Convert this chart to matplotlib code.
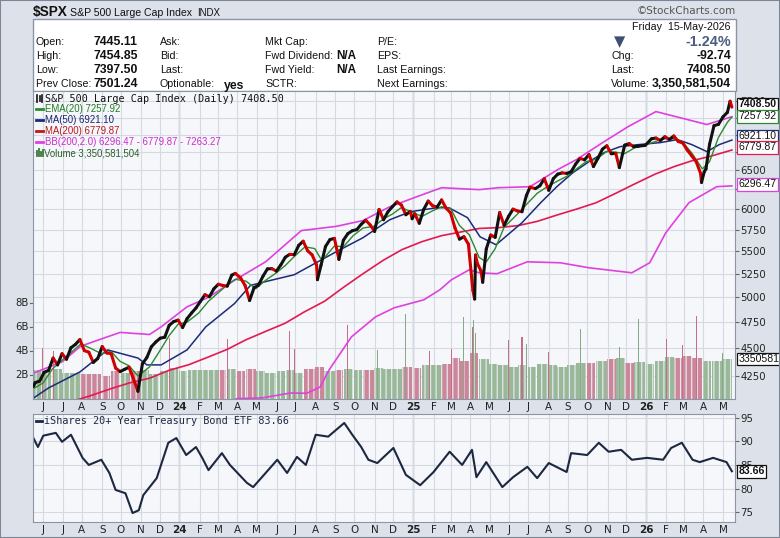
import numpy as np
import pandas as pd
import matplotlib
matplotlib.use("Agg")
import matplotlib.pyplot as plt
from matplotlib.patches import Rectangle
from matplotlib.lines import Line2D
from matplotlib.collections import LineCollection
from matplotlib.transforms import blended_transform_factory
from matplotlib.ticker import FixedLocator, FixedFormatter, NullLocator, NullFormatter

W, H = 780, 538
plt.rcParams["hatch.linewidth"] = 0.9

# S&P 500 weekly closes
px_dates = ["2023-05-17", "2023-05-19", "2023-05-26", "2023-06-02", "2023-06-09", "2023-06-16",
            "2023-06-23", "2023-06-30", "2023-07-07", "2023-07-14", "2023-07-21", "2023-07-28",
            "2023-08-04", "2023-08-11", "2023-08-18", "2023-08-25", "2023-09-01", "2023-09-08",
            "2023-09-15", "2023-09-22", "2023-09-29", "2023-10-06", "2023-10-13", "2023-10-20",
            "2023-10-27", "2023-11-03", "2023-11-10", "2023-11-17", "2023-11-24", "2023-12-01",
            "2023-12-08", "2023-12-15", "2023-12-22", "2023-12-29",
            "2024-01-05", "2024-01-12", "2024-01-19", "2024-01-26", "2024-02-02", "2024-02-09",
            "2024-02-16", "2024-02-23", "2024-03-01", "2024-03-08", "2024-03-15", "2024-03-22",
            "2024-03-28", "2024-04-05", "2024-04-12", "2024-04-19", "2024-04-26", "2024-05-03",
            "2024-05-10", "2024-05-17", "2024-05-24", "2024-05-31", "2024-06-07", "2024-06-14",
            "2024-06-21", "2024-06-28", "2024-07-05", "2024-07-12", "2024-07-19", "2024-07-26",
            "2024-08-02", "2024-08-05", "2024-08-09", "2024-08-16", "2024-08-23", "2024-08-30",
            "2024-09-06", "2024-09-13", "2024-09-20", "2024-09-27", "2024-10-04", "2024-10-11",
            "2024-10-18", "2024-10-25", "2024-11-01", "2024-11-08", "2024-11-15", "2024-11-22",
            "2024-11-29", "2024-12-06", "2024-12-13", "2024-12-20", "2024-12-27", "2024-12-31",
            "2025-01-03", "2025-01-10", "2025-01-17", "2025-01-24", "2025-01-31", "2025-02-07",
            "2025-02-14", "2025-02-21", "2025-02-28", "2025-03-07", "2025-03-14", "2025-03-21",
            "2025-03-28", "2025-04-04", "2025-04-08", "2025-04-09", "2025-04-11", "2025-04-17",
            "2025-04-21", "2025-04-25", "2025-05-02", "2025-05-09", "2025-05-16", "2025-05-23",
            "2025-05-30", "2025-06-06", "2025-06-13", "2025-06-20", "2025-06-27", "2025-07-03",
            "2025-07-11", "2025-07-18", "2025-07-25", "2025-08-01", "2025-08-08", "2025-08-15",
            "2025-08-22", "2025-08-29", "2025-09-05", "2025-09-12", "2025-09-19", "2025-09-26",
            "2025-10-03", "2025-10-10", "2025-10-17", "2025-10-24", "2025-10-31", "2025-11-07",
            "2025-11-14", "2025-11-20", "2025-11-28", "2025-12-05", "2025-12-12", "2025-12-19",
            "2025-12-31",
            "2026-01-09", "2026-01-16", "2026-01-23", "2026-01-30", "2026-02-06", "2026-02-13",
            "2026-02-20", "2026-02-27", "2026-03-06", "2026-03-13", "2026-03-20", "2026-03-27",
            "2026-03-30", "2026-04-02", "2026-04-06", "2026-04-10", "2026-04-17", "2026-04-24",
            "2026-05-01", "2026-05-08", "2026-05-13", "2026-05-15"]
px_close = [4158, 4192, 4205, 4282, 4299, 4410,
            4348, 4450, 4399, 4505, 4536, 4582,
            4478, 4464, 4370, 4406, 4516, 4457,
            4450, 4320, 4288, 4308, 4327, 4224,
            4117, 4358, 4415, 4514, 4559, 4595,
            4604, 4719, 4755, 4770,
            4697, 4784, 4840, 4891, 4959, 5027,
            5006, 5089, 5137, 5124, 5117, 5234,
            5254, 5204, 5123, 4967, 5100, 5128,
            5223, 5303, 5305, 5278, 5347, 5432,
            5465, 5460, 5567, 5615, 5505, 5459,
            5346, 5186, 5344, 5554, 5634, 5648,
            5408, 5626, 5703, 5738, 5751, 5815,
            5864, 5808, 5729, 5996, 5870, 5969,
            6032, 6090, 6051, 5931, 5971, 5882,
            5942, 5827, 5997, 6101, 6041, 6026,
            6115, 6013, 5955, 5770, 5639, 5668,
            5581, 5074, 4982, 5457, 5363, 5283,
            5158, 5525, 5687, 5660, 5958, 5803,
            5912, 6000, 5977, 5968, 6173, 6279,
            6260, 6297, 6389, 6238, 6389, 6450,
            6467, 6460, 6482, 6584, 6664, 6644,
            6716, 6552, 6664, 6791, 6840, 6728,
            6734, 6538, 6849, 6870, 6827, 6834,
            6845,
            6940, 6950, 6915, 6970, 6930, 6980,
            6900, 6880, 6780, 6700, 6620, 6460,
            6340, 6480, 6520, 6860, 7130, 7150,
            7260, 7330, 7500, 7408.5]

ema_dates = ["2023-05-17", "2023-06-01", "2023-06-15", "2023-06-30", "2023-07-14", "2023-07-31",
             "2023-08-15", "2023-08-31", "2023-09-15", "2023-09-29", "2023-10-13", "2023-10-27",
             "2023-11-15", "2023-11-30", "2023-12-15", "2023-12-29",
             "2024-01-12", "2024-01-31", "2024-02-15", "2024-02-29", "2024-03-15", "2024-03-28",
             "2024-04-15", "2024-04-30", "2024-05-15", "2024-05-31", "2024-06-14", "2024-06-28",
             "2024-07-16", "2024-07-31", "2024-08-09", "2024-08-15", "2024-08-30", "2024-09-13",
             "2024-09-30", "2024-10-15", "2024-10-31", "2024-11-15", "2024-11-29", "2024-12-13",
             "2024-12-31",
             "2025-01-15", "2025-01-31", "2025-02-14", "2025-02-28", "2025-03-14", "2025-03-31",
             "2025-04-15", "2025-04-25", "2025-05-09", "2025-05-23", "2025-06-13", "2025-06-30",
             "2025-07-15", "2025-07-31", "2025-08-15", "2025-08-29", "2025-09-15", "2025-09-30",
             "2025-10-15", "2025-10-31", "2025-11-14", "2025-11-28", "2025-12-15", "2025-12-31",
             "2026-01-15", "2026-01-30", "2026-02-13", "2026-02-27", "2026-03-13", "2026-03-31",
             "2026-04-10", "2026-04-24", "2026-05-08", "2026-05-15"]
ema_vals = [4140, 4190, 4310, 4390, 4460, 4540, 4500, 4450, 4470, 4380, 4340, 4250,
            4330, 4470, 4620, 4730,
            4750, 4840, 4960, 5040, 5130, 5190, 5170, 5090, 5180, 5260, 5340, 5440,
            5550, 5530, 5410, 5430, 5560, 5550, 5680, 5770, 5790, 5880, 5940, 6020, 5960,
            5910, 5980, 6030, 6010, 5800, 5690, 5430, 5380, 5530, 5780, 5940, 6070,
            6200, 6290, 6360, 6420, 6520, 6620, 6650, 6760, 6750, 6730, 6810, 6850,
            6900, 6940, 6940, 6890, 6740, 6520, 6620, 6960, 7180, 7258]

ma50_dates = ["2023-05-17", "2023-06-09", "2023-07-28", "2023-09-11", "2023-10-27", "2023-11-10",
              "2023-12-04", "2024-01-12", "2024-02-12", "2024-03-27", "2024-04-22", "2024-05-17",
              "2024-06-28", "2024-09-03", "2024-10-15", "2024-11-26", "2024-12-27", "2025-02-07",
              "2025-02-26", "2025-03-27", "2025-04-16", "2025-05-12", "2025-06-20", "2025-07-21",
              "2025-08-14", "2025-09-09", "2025-10-03", "2025-10-28", "2025-11-21", "2025-12-22",
              "2026-01-23", "2026-02-19", "2026-03-13", "2026-04-07", "2026-04-27", "2026-05-15"]
ma50_vals = [4060, 4146, 4285, 4485, 4410, 4348, 4348, 4485, 4704, 4935, 5125, 5170,
             5239, 5494, 5656, 5870, 5968, 6018, 6018, 5895, 5667, 5574, 5834, 6081,
             6285, 6470, 6619, 6744, 6828, 6857, 6885, 6928, 6857, 6758, 6857, 6921]

ma200_dates = ["2023-07-10", "2023-08-15", "2023-09-15", "2023-10-16", "2023-11-15", "2023-12-15",
               "2024-01-16", "2024-02-15", "2024-03-15", "2024-04-15", "2024-05-15", "2024-06-14",
               "2024-07-15", "2024-08-15", "2024-09-16", "2024-10-15", "2024-11-15", "2024-12-16",
               "2025-01-15", "2025-02-14", "2025-03-14", "2025-04-15", "2025-05-15", "2025-06-16",
               "2025-07-15", "2025-08-15", "2025-09-15", "2025-10-15", "2025-11-14", "2025-12-15",
               "2026-01-15", "2026-02-13", "2026-03-13", "2026-04-15", "2026-05-15"]
ma200_vals = [4020, 4080, 4140, 4190, 4230, 4300, 4350, 4420, 4490, 4580, 4660, 4740,
              4850, 4960, 5110, 5250, 5400, 5520, 5610, 5680, 5720, 5765, 5775, 5800,
              5850, 5930, 6000, 6080, 6200, 6320, 6450, 6550, 6630, 6700, 6780]

bbu_dates = ["2023-05-17", "2023-06-30", "2023-07-31", "2023-09-29", "2023-11-15", "2023-12-04",
             "2024-01-12", "2024-02-15", "2024-03-28", "2024-05-15", "2024-07-10", "2024-09-03",
             "2024-10-15", "2024-11-26", "2025-01-15", "2025-02-14", "2025-04-15", "2025-05-15",
             "2025-07-03", "2025-08-15", "2025-09-15", "2025-10-28", "2025-12-04", "2026-01-16",
             "2026-04-07", "2026-05-15"]
bbu_vals = [4275, 4375, 4520, 4650, 4630, 4704, 4903, 5000, 5185, 5381, 5740, 5790,
            5860, 6030, 6180, 6272, 6247, 6272, 6285, 6511, 6647, 6899, 7117, 7341,
            7147, 7263]

bbl_dates = ["2024-03-01", "2024-04-01", "2024-05-09", "2024-06-24", "2024-07-18", "2024-08-08",
             "2024-08-22", "2024-09-26", "2024-11-04", "2024-12-03", "2025-01-17", "2025-02-12",
             "2025-03-03", "2025-03-31", "2025-04-15", "2025-05-13", "2025-06-30", "2025-08-20",
             "2025-10-03", "2025-12-10", "2026-01-07", "2026-02-02", "2026-03-10", "2026-04-22",
             "2026-05-15"]
bbl_vals = [3990, 4055, 4061, 4103, 4100, 4154, 4303, 4607, 4802, 4893, 4974, 5078,
            5185, 5293, 5260, 5250, 5381, 5370, 5315, 5260, 5370, 5714, 6081, 6285, 6296]

# volume in billions, half-month buckets starting 2023-05-15
vol_vals = [2.4, 2.3, 2.5, 2.2, 2.2, 2.1, 2.1, 1.9, 2.3, 2.2, 2.3, 2.4, 2.1, 2.3, 2.6,
            2.3, 2.4, 2.4, 2.4, 2.4, 2.5, 2.3, 2.5, 2.3, 2.2, 2.3, 2.4,
            2.2, 2.5, 2.7, 2.3, 2.4, 2.5, 2.4, 2.4, 2.6, 2.5, 2.5, 2.7,
            2.6, 2.8, 2.8, 2.9, 3.4, 3.2, 3.8, 3.3, 2.9, 2.8, 2.7, 2.8,
            2.7, 2.9, 2.8, 2.7, 2.8, 3.0, 3.0, 3.2, 3.3, 3.4, 3.0, 3.1,
            2.9, 3.2, 3.5, 3.4, 3.6, 3.4, 3.2, 3.2, 3.3]
spike_dates = ["2023-05-31", "2023-06-16", "2023-12-15", "2024-03-15", "2024-06-21", "2024-06-28",
               "2024-09-20", "2024-11-06", "2024-12-20", "2025-01-27", "2025-03-03", "2025-03-21",
               "2025-04-04", "2025-04-07", "2025-04-09", "2025-05-30", "2025-06-20", "2025-06-27",
               "2025-08-01", "2025-09-19", "2025-11-20", "2025-12-19", "2026-02-03", "2026-02-27",
               "2026-03-20", "2026-04-30"]
spike_vals = [4.25, 4.0, 5.1, 5.0, 5.7, 4.2, 6.2, 4.1, 7.1, 4.0, 4.2, 6.8,
              6.0, 6.6, 5.5, 4.9, 5.2, 4.6, 3.9, 5.8, 4.3, 6.7, 5.0, 4.5, 6.9, 3.8]
spike_up = ["d", "d", "d", "d", "d", "d", "d", "u", "u", "d", "d", "u",
            "d", "u", "u", "d", "d", "u", "d", "u", "u", "u", "d", "d", "d", "u"]

# iShares 20+ Year Treasury Bond ETF
tlt_dates = ["2023-05-17", "2023-05-24", "2023-06-01", "2023-06-21", "2023-06-30", "2023-07-14",
             "2023-08-02", "2023-08-11", "2023-08-31", "2023-09-13", "2023-09-22", "2023-10-09",
             "2023-10-19", "2023-10-30", "2023-11-06", "2023-11-27", "2023-12-14", "2023-12-27",
             "2024-01-11", "2024-01-26", "2024-02-06", "2024-02-15", "2024-03-07", "2024-03-20",
             "2024-04-16", "2024-04-25", "2024-05-15", "2024-06-03", "2024-06-18", "2024-07-03",
             "2024-07-17", "2024-08-01", "2024-08-21", "2024-09-16", "2024-09-27", "2024-10-11",
             "2024-10-23", "2024-11-06", "2024-12-02", "2024-12-20", "2025-01-13", "2025-02-03",
             "2025-02-27", "2025-03-19", "2025-04-03", "2025-04-10", "2025-04-25", "2025-05-21",
             "2025-06-06", "2025-06-30", "2025-07-15", "2025-08-01", "2025-08-29", "2025-09-05",
             "2025-10-01", "2025-10-20", "2025-11-04", "2025-11-24", "2025-12-10", "2026-01-02",
             "2026-01-28", "2026-02-10", "2026-02-26", "2026-03-16", "2026-03-26", "2026-04-16",
             "2026-05-07", "2026-05-15"]
tlt_vals = [90.7, 88.8, 91.2, 91.8, 89.9, 91.4, 86.5, 85.0, 86.1, 83.3, 79.7, 79.0,
            74.8, 75.4, 78.6, 82.2, 89.7, 90.7, 87.1, 88.8, 86.5, 83.9, 87.5, 85.0,
            81.2, 80.3, 83.3, 86.1, 83.3, 86.7, 85.0, 91.4, 91.0, 93.9, 91.4, 88.8,
            86.1, 85.4, 88.6, 82.9, 80.7, 83.5, 87.8, 85.0, 88.2, 82.4, 85.6, 80.3,
            82.4, 84.6, 82.2, 85.4, 83.5, 87.5, 87.1, 89.7, 87.8, 88.2, 86.1, 86.5,
            86.1, 88.6, 89.7, 86.1, 85.6, 86.5, 85.6, 83.66]

price_ticks = [4250, 4500, 4750, 5000, 5250, 5500, 5750, 6000, 6250, 6500, 6750, 7000, 7250, 7500]
price_labels = ["4250", "4500", "4750", "5000", "5250", "5500", "5750", "6000", "", "6500", "", "7000", "", "7500"]
vol_ticks = [2, 4, 6, 8]
tlt_ticks = [75, 80, 85, 90, 95]

# colours
C_EMA = "#2c8a2c"
C_MA50 = "#1c2a7a"
C_MA200 = "#e21a52"
C_BB = "#e040e0"
C_TLT = "#1c2841"
PANEL = "#f6f7fa"
GRID = "#d4d9e2"
EDGE = "#8c95a5"
HF = "Liberation Sans"
MONO = "DejaVu Sans Mono"

days = pd.bdate_range("2023-05-17", "2026-05-15")
n = len(days)


def pos(d):
    return days.searchsorted(pd.to_datetime(d))


def rect(x0, y0, x1, y1):
    return [x0 / W, 1 - y1 / H, (x1 - x0) / W, (y1 - y0) / H]


fig = plt.figure(figsize=(W / 100, H / 100), dpi=100, facecolor="#dde2ea")

# header box
fig.add_artist(Rectangle((33 / W, 1 - 91 / H), (736 - 33) / W, (91 - 19) / H,
                         transform=fig.transFigure, fc="white", ec=EDGE, lw=1, zorder=0))

ax = fig.add_axes(rect(33, 91, 735, 399))
ax2 = fig.add_axes(rect(33, 414, 735, 522))

months = pd.date_range("2023-06-01", "2026-05-01", freq="MS")
mpos = pos(months)
mlabels = [str(d.year)[2:] if d.month == 1 else d.strftime("%b")[0] for d in months]

for a in (ax, ax2):
    a.set_facecolor(PANEL)
    a.set_xlim(-0.5, n + 2.5)
    a.set_xticks(mpos)
    a.set_xticklabels(mlabels)
    a.tick_params(axis="x", length=0, pad=2.5, labelsize=7.5, labelcolor="#222")
    for lbl in a.get_xticklabels():
        if lbl.get_text().isdigit():
            lbl.set_fontweight("bold")
    a.grid(True, color=GRID, lw=0.8)
    a.set_axisbelow(True)
    for m, p in zip(months, mpos):
        if m.month == 1:
            a.axvline(p, color="#aab2bf", lw=1.0, zorder=0.5)
    for s in a.spines.values():
        s.set_color(EDGE)

# ---- price panel ----
ax.set_yscale("log")
ax.set_ylim(4052, 7660)
ax.yaxis.set_major_locator(FixedLocator(price_ticks))
ax.yaxis.set_major_formatter(FixedFormatter(price_labels))
ax.yaxis.set_minor_locator(NullLocator())
ax.yaxis.set_minor_formatter(NullFormatter())
ax.yaxis.tick_right()
ax.tick_params(axis="y", length=3, color="#666", labelsize=7.3, labelcolor="#222", pad=1)

# volume overlay
vtr = blended_transform_factory(ax.transData, ax.transAxes)
VMAX = (399 - 91) / 12.0
xp = pos(px_dates)
yp = np.array(px_close)


def price_at(x):
    i = max(np.searchsorted(xp, x, side="right") - 1, 0)
    return yp[i]


vstart = pd.date_range("2023-05-15", periods=len(vol_vals), freq="SMS")
vs = pos(vstart)
ve = np.append(vs[1:], n)
for a0, a1, v in zip(vs, ve, vol_vals):
    up = price_at(a1 - 1) >= price_at(a0)
    fc = "#98b898" if up else "#cc8599"
    ax.add_patch(Rectangle((a0 - 0.5, 0), a1 - a0 - 0.4, v / VMAX, transform=vtr,
                           fc=fc, ec="#e3e7ee", lw=0, hatch="|||", zorder=1))
for d, v, u in zip(pos(spike_dates), spike_vals, spike_up):
    fc = "#86aa86" if u == "u" else "#c46f88"
    ax.add_patch(Rectangle((d - 0.6, 0), 1.2, v / VMAX, transform=vtr, fc=fc, lw=0, zorder=1.1))
for v in vol_ticks:
    ax.text(-0.006, v / VMAX, f"{v}B", transform=ax.transAxes, ha="right", va="center",
            fontsize=7.3, color="#222")
    ax.plot([-0.004, 0], [v / VMAX] * 2, transform=ax.transAxes, color="#666", lw=0.8,
            clip_on=False)

ax.plot(pos(bbl_dates), bbl_vals, color=C_BB, lw=1.2, zorder=2)
ax.plot(pos(bbu_dates), bbu_vals, color=C_BB, lw=1.2, zorder=2)
ax.plot(pos(ma200_dates), ma200_vals, color=C_MA200, lw=1.2, zorder=2.1)
ax.plot(pos(ma50_dates), ma50_vals, color=C_MA50, lw=1.1, zorder=2.2)
ax.plot(pos(ema_dates), ema_vals, color=C_EMA, lw=1.0, zorder=2.3)

segs = [[(xp[i], yp[i]), (xp[i + 1], yp[i + 1])] for i in range(len(xp) - 1)]
cols = ["#111111" if yp[i + 1] >= yp[i] else "#d00000" for i in range(len(xp) - 1)]
ax.add_collection(LineCollection(segs, colors=cols, linewidths=2.2, zorder=3,
                                 capstyle="round"))

ytr = ax.get_yaxis_transform()


def tag(a, tr, y, s, ec, bold=False, dy=0):
    a.annotate(s, xy=(1.005, y), xycoords=tr, xytext=(0, dy), textcoords="offset points",
               ha="left", va="center", family=HF, fontsize=7.6, color="#111",
               fontweight="bold" if bold else "normal", annotation_clip=False, zorder=5,
               bbox=dict(boxstyle="square,pad=0.12", fc="white", ec=ec, lw=0.9))


tag(ax, ytr, px_close[-1], "7408.50", "#111", bold=True, dy=2)
tag(ax, ytr, ema_vals[-1], "7257.92", C_EMA, dy=0.5)
tag(ax, ytr, ma50_vals[-1], "6921.10", C_MA50, dy=3)
tag(ax, ytr, ma200_vals[-1], "6779.87", C_MA200, dy=2)
tag(ax, ytr, bbl_vals[-1], "6296.47", C_BB, dy=1)
ax.annotate("3350581504", xy=(1.005, 3.35 / VMAX), xycoords=ax.transAxes, ha="left",
            va="center", family=HF, fontsize=7.6, color="#111", annotation_clip=False,
            zorder=5, bbox=dict(boxstyle="square,pad=0.12", fc="white", ec="#111", lw=0.9))

# ---- bond panel ----
ax2.plot(pos(tlt_dates), tlt_vals, color=C_TLT, lw=1.5)
ax2.set_ylim(72.9, 95.8)
ax2.set_yticks(tlt_ticks)
ax2.yaxis.tick_right()
ax2.tick_params(axis="y", length=3, color="#666", labelsize=7.3, labelcolor="#222", pad=1)
tag(ax2, ax2.get_yaxis_transform(), tlt_vals[-1], "83.66", "#111", bold=True)


# ---- texts ----
def ftxt(x, y, s, **kw):
    kw.setdefault("va", "center")
    return fig.text(x / W, 1 - y / H, s, **kw)


def fline(x0, x1, y0, y1, color, lw=2):
    fig.add_artist(Line2D([x0 / W, x1 / W], [1 - y0 / H, 1 - y1 / H],
                          transform=fig.transFigure, color=color, lw=lw))


ftxt(33, 12, "$SPX", family=HF, fontsize=9.8, fontweight="bold", color="#111")
ftxt(70, 12.5, "S&P 500 Large Cap Index", family=HF, fontsize=7.6, color="#111")
ftxt(197, 12.5, "INDX", family=HF, fontsize=7.0, color="#111")
ftxt(736, 11, "\u00a9StockCharts.com", fontsize=7.5, color="#555", ha="right")

LF, VF = 7.7, 8.8
rows = [42, 56, 70, 84]
for y, lab, val in zip(rows, ["Open:", "High:", "Low:", "Prev Close:"],
                       ["7445.11", "7454.85", "7397.50", "7501.24"]):
    ftxt(36, y, lab, family=HF, fontsize=LF, color="#111")
    ftxt(138, y, val, family=HF, fontsize=VF, fontweight="bold", color="#111", ha="right")
for y, lab in zip(rows, ["Ask:", "Bid:", "Last:", "Optionable:"]):
    ftxt(160, y, lab, family=HF, fontsize=LF, color="#111")
ftxt(224, 86, "yes", family=HF, fontsize=VF, fontweight="bold", color="#111")
for y, lab in zip(rows, ["Mkt Cap:", "Fwd Dividend:", "Fwd Yield:", "SCTR:"]):
    ftxt(265, y, lab, family=HF, fontsize=LF, color="#111")
ftxt(356, 56, "N/A", family=HF, fontsize=8.4, fontweight="bold", color="#111", ha="right")
ftxt(356, 70, "N/A", family=HF, fontsize=8.4, fontweight="bold", color="#111", ha="right")
for y, lab in zip(rows, ["P/E:", "EPS:", "Last Earnings:", "Next Earnings:"]):
    ftxt(377, y, lab, family=HF, fontsize=LF, color="#111")

ftxt(731, 27, "Friday  15-May-2026", family=HF, fontsize=7.7, color="#111", ha="right")
ftxt(620, 42, "\u25bc", fontsize=10.5, color="#3e5072", ha="center")
ftxt(731, 42, "-1.24%", family=HF, fontsize=10.4, fontweight="bold", color="#4a5d82", ha="right")
for y, lab, val in zip(rows[1:], ["Chg:", "Last:", "Volume:"],
                       ["-92.74", "7408.50", "3,350,581,504"]):
    ftxt(611, y, lab, family=HF, fontsize=LF, color="#111")
    ftxt(731, y, val, family=HF, fontsize=VF, fontweight="bold", color="#111", ha="right")

# price legend
for xx, y0, y1 in [(37, 95, 102), (39.5, 96, 101), (42, 94.5, 101.5)]:
    fline(xx, xx, y0, y1, "#111", lw=1.2)
ftxt(45, 98.5, "S&P 500 Large Cap Index (Daily) 7408.50", family=MONO, fontsize=7.3,
     color="#111")
leg = [(109, C_EMA, "EMA(20) 7257.92", "#1f7a1f"),
       (120, C_MA50, "MA(50) 6921.10", "#1a2470"),
       (131, "#c01818", "MA(200) 6779.87", "#b81818"),
       (142, C_BB, "BB(200,2.0) 6296.47 - 6779.87 - 7263.27", "#cc2ccc")]
for y, lc, s, tc in leg:
    fline(35.5, 43, y, y, lc, lw=2)
    ftxt(45, y, s, family=HF, fontsize=6.9, color=tc)
for xx, hgt in [(36.5, 5), (38.5, 7), (40.5, 4), (42.5, 6)]:
    fline(xx, xx, 156, 156 - hgt, "#3d7a3d", lw=1.3)
ftxt(44.5, 153, "Volume 3,350,581,504", family=HF, fontsize=6.9, color="#2e5e2e")

# bond legend
fline(35.5, 42, 421, 421, C_TLT, lw=2)
ftxt(44, 421, "iShares 20+ Year Treasury Bond ETF 83.66", family=MONO, fontsize=7.3,
     color="#1c2841")

fig.add_artist(Rectangle((0, 0), 1, 1, transform=fig.transFigure, fill=False,
                         ec="#7d8696", lw=1.5))

fig.savefig("out.png", dpi=100, facecolor=fig.get_facecolor())
